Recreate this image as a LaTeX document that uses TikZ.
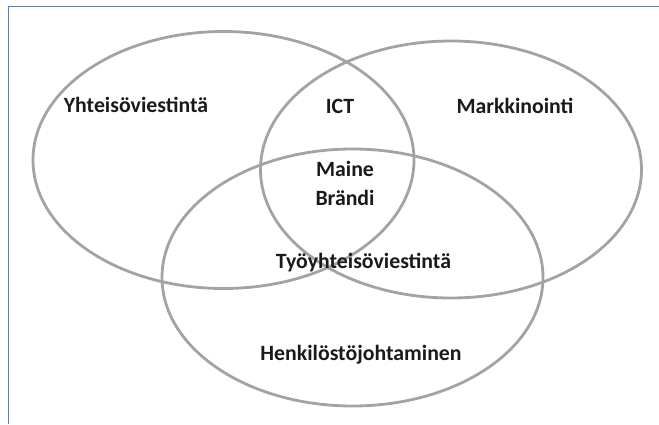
\documentclass[tikz,border=0pt]{standalone}
\usepackage{fontspec}
\setmainfont{Carlito}
\usetikzlibrary{shapes.geometric}
\definecolor{ringgray}{HTML}{A3A3A3}
\definecolor{frameblue}{HTML}{4F81BD}
\definecolor{txt}{HTML}{1A1A1A}
\tikzset{
  ring/.style={ellipse, draw=ringgray, line width=2.8pt, inner sep=0pt,
    minimum width=381pt, minimum height=257pt},
  lbl/.style={font=\fontsize{21.8}{26}\selectfont\bfseries, text=txt, inner sep=0pt, anchor=base}
}
\begin{document}
\begin{tikzpicture}[x=1pt,y=-1pt]
\useasboundingbox (0,0) rectangle (659,424);
\coordinate (fb) at (8.5,424);
\coordinate (fc) at (8.5,6.5);
\coordinate (fr) at (659,6.5);
\draw[frameblue, line width=1.6pt] (fb) -- (fc) -- (fr);
\node[ring] (yht) at (223.5,160) {};
\node[ring] (mar) at (451,169.5) {};
\node[ring] (hen) at (352.5,277.5) {};
\node[lbl] (t1) at (136,112.5) {Yhteisöviestintä};
\node[lbl] (t2) at (340,113) {ICT};
\node[lbl] (t3) at (515,113) {Markkinointi};
\node[lbl] (t4) at (345,176) {Maine};
\node[lbl] (t5) at (345,205) {Brändi};
\node[lbl] (t6) at (363.5,268) {Työyhteisöviestintä};
\node[lbl] (t7) at (361,360) {Henkilöstöjohtaminen};
\end{tikzpicture}
\end{document}
